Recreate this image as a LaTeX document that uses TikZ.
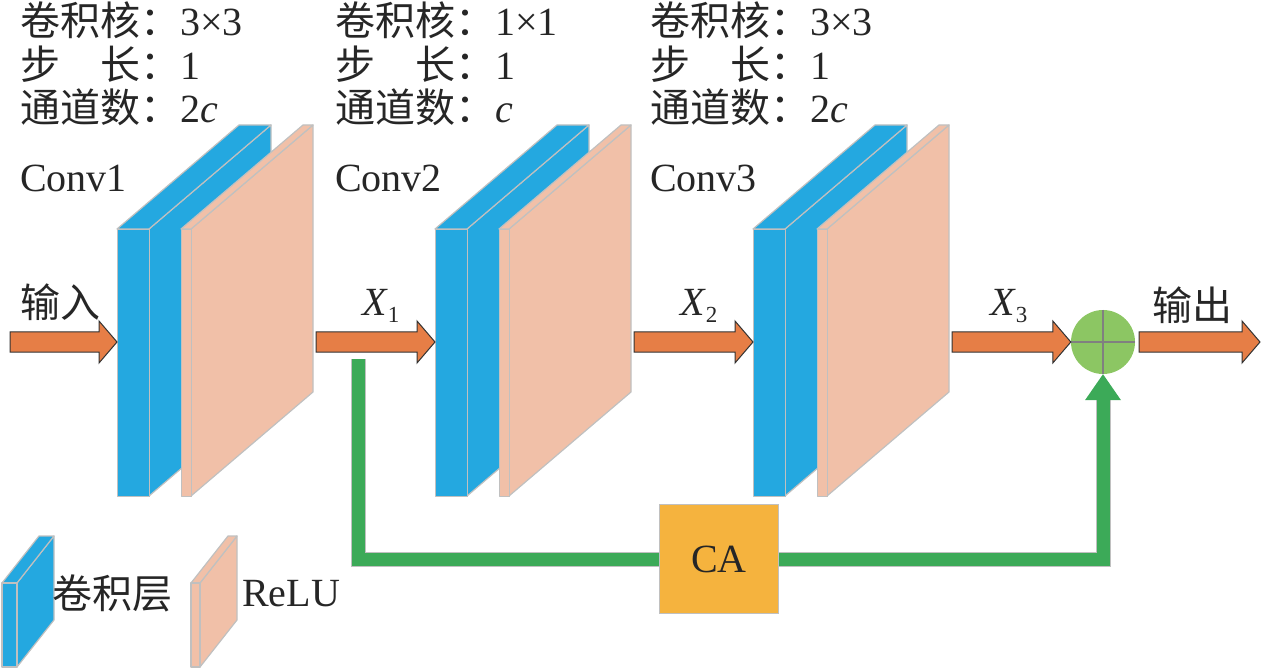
\documentclass[tikz,border=0pt]{standalone}
\usepackage{fontspec}
\setmainfont{Liberation Serif}
\newfontfamily\cjk{Noto Sans CJK SC}
\usetikzlibrary{calc}

\definecolor{convblue}{RGB}{36,168,224}
\definecolor{relupink}{RGB}{241,192,168}
\definecolor{arroworange}{RGB}{230,126,70}
\definecolor{skipgreen}{RGB}{60,170,88}
\definecolor{sumgreen}{RGB}{140,198,99}
\definecolor{caorange}{RGB}{245,179,62}
\definecolor{edgegray}{RGB}{192,192,192}

\tikzset{
  txt/.style={anchor=base west, inner sep=0pt, text=black!85, font=\fontsize{40}{44}\selectfont},
  face/.style={draw=edgegray, line width=1.2pt, line join=round},
  bluefc/.style={face, fill=convblue},
  pinkfc/.style={face, fill=relupink},
  frontfc/.style={minimum height=267pt, anchor=north west, inner sep=0pt},
  blockarrow/.style={draw=black!80, line width=1pt, line join=miter, fill=arroworange,
    to path={($(\tikztostart)+(0,-10)$) -- ($(\tikztotarget)+(-18,-10)$)
      -- ($(\tikztotarget)+(-18,-21)$) -- (\tikztotarget) -- ($(\tikztotarget)+(-18,21)$)
      -- ($(\tikztotarget)+(-18,10)$) -- ($(\tikztostart)+(0,10)$) -- cycle}},
  skipbar/.style={draw=edgegray, line width=1pt, double=skipgreen, double distance=13pt}
}

\begin{document}
\begin{tikzpicture}[x=1pt, y=-1pt]
\useasboundingbox (0,0) rectangle (1261,668);
% Conv + ReLU blocks
\foreach \bx/\k in {117/1, 435/2, 753/3}{
  \draw[bluefc] (\bx+32,229) -- (\bx+154,125) -- (\bx+154,392) -- (\bx+32,496) -- cycle;
  \draw[bluefc] (\bx,229) -- (\bx+122,125) -- (\bx+154,125) -- (\bx+32,229) -- cycle;
  \node[bluefc, frontfc, minimum width=32pt] (conv\k) at (\bx,229) {};
  \draw[pinkfc] (\bx+74,229) -- (\bx+196,125) -- (\bx+196,392) -- (\bx+74,496) -- cycle;
  \draw[pinkfc] (\bx+64,229) -- (\bx+186,125) -- (\bx+196,125) -- (\bx+74,229) -- cycle;
  \node[pinkfc, frontfc, minimum width=10pt] (relu\k) at (\bx+64,229) {};
  \coordinate (in\k) at (\bx,342);
  \coordinate (out\k) at (\bx+199,342);
}
% Layer parameters
\foreach \tx/\kk/\ch/\k in {20/3×3/2\textit{c}/1, 335/1×1/\textit{c}/2, 650/3×3/2\textit{c}/3}{
  \node[txt] (kern\k) at (\tx,36) {{\cjk 卷积核：}\kk};
  \node[txt] (stride\k) at (\tx,80) {{\cjk 步\hspace{1em}长：}1};
  \node[txt] (chan\k) at (\tx,123) {{\cjk 通道数：}\ch};
  \node[txt] (name\k) at (\tx,192) {Conv\k};
}
% Sum node and CA
\node[circle, fill=sumgreen, minimum size=64pt, inner sep=0pt] (sum) at (1103,342) {};
\draw[gray, line width=1.2pt] (sum.north) -- (sum.south) (sum.west) -- (sum.east);
\node[fill=caorange, draw=edgegray, line width=1pt, minimum width=119pt, minimum height=109pt,
  inner sep=0pt, font=\fontsize{40}{44}\selectfont, text=black!85] (ca) at (719,559) {CA};
% Main flow
\coordinate (start) at (10,342);
\coordinate (end) at (1260,342);
\draw[blockarrow] (start) to (in1);
\draw[blockarrow] (out1) to (in2);
\draw[blockarrow] (out2) to (in3);
\draw[blockarrow] (out3) to (sum.west);
\draw[blockarrow] ($(sum.east)+(4,0)$) to (end);
\node[txt] (input) at (20,318) {\cjk 输入};
\node[txt] (output) at (1152,320) {\cjk 输出};
\foreach \lx/\k in {362/1, 680/2, 990/3}
  \node[txt] (x\k) at (\lx,316) {\textit{X}\raisebox{-7pt}{\fontsize{23}{23}\selectfont\k}};
% Skip connection through CA
\coordinate (skip) at (358,359);
\coordinate (up) at ($(sum.south)+(0,26)$);
\draw[skipbar] (skip) |- (ca.west);
\draw[skipbar] (ca.east) -| (up);
\fill[skipgreen] ($(up)+(-18,0)$) -- (sum.south) -- ($(up)+(18,0)$) -- cycle;
% Legend
\draw[bluefc] (17,583) -- (54,536) -- (54,620) -- (17,667) -- cycle;
\draw[bluefc] (2,583) -- (39,536) -- (54,536) -- (17,583) -- cycle;
\draw[bluefc] (2,583) rectangle (17,667);
\node[txt] (convkey) at (52,608) {\cjk 卷积层};
\draw[pinkfc] (200,583) -- (237,536) -- (237,620) -- (200,667) -- cycle;
\draw[pinkfc] (191,583) -- (228,536) -- (237,536) -- (200,583) -- cycle;
\draw[pinkfc] (191,583) rectangle (200,667);
\node[txt] (relukey) at (242,606) {ReLU};
\end{tikzpicture}
\end{document}
